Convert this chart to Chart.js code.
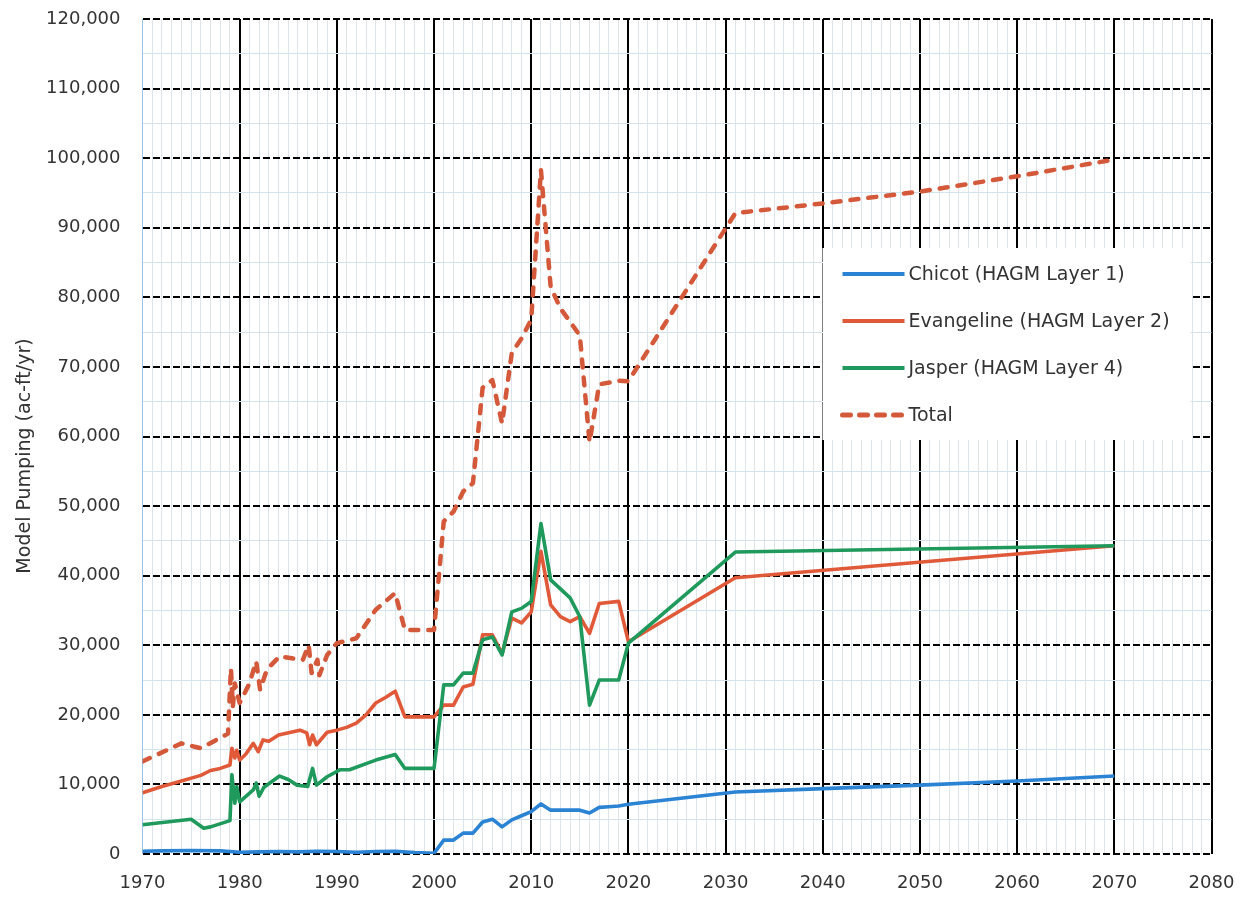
<!DOCTYPE html>
<html>
<head>
<meta charset="utf-8">
<script src="https://cdn.jsdelivr.net/npm/chart.js@4.4.0/dist/chart.umd.min.js"></script>
<style>
  html, body { margin: 0; padding: 0; background: #fff; }
  #wrap { width: 1242px; height: 899px; position: relative; }
</style>
</head>
<body>
<div id="wrap"><canvas id="pumpChart"></canvas></div>
<script>
// Datos (ac-ft/yr)
const chicotYears = [1970, 1972, 1975, 1978, 1979, 1980, 1982, 1984, 1986, 1988, 1990, 1992, 1994, 1996, 1998, 2000,
  2001, 2002, 2003, 2004, 2005, 2006, 2007, 2008, 2009, 2010, 2011, 2012, 2013, 2014, 2015, 2016, 2017, 2018, 2019, 2020,
  2031, 2040, 2050, 2060, 2070];
const chicotValues = [400, 450, 500, 450, 350, 250, 300, 350, 300, 400, 350, 250, 350, 400, 200, 100,
  2000, 2000, 3000, 3000, 4600, 5000, 3900, 4900, 5500, 6100, 7200, 6300, 6300, 6300, 6300, 5900, 6700, 6800, 6900, 7150,
  8900, 9400, 9900, 10500, 11200];

const evangelineYears = [1970, 1972, 1974, 1976, 1977, 1978, 1979, 1979.2, 1979.5, 1979.7, 1980, 1980.6, 1981.4, 1981.9, 1982.4, 1983,
  1984, 1986.2, 1986.9, 1987.2, 1987.5, 1987.9, 1989, 1990, 1991, 1992, 1993, 1994, 1995, 1996, 1997, 2000,
  2001, 2002, 2003, 2004, 2005, 2006, 2007, 2008, 2009, 2010, 2011, 2012, 2013, 2014, 2015, 2016, 2017, 2019, 2020,
  2031, 2070];
const evangelineValues = [8800, 9700, 10500, 11300, 12000, 12300, 12800, 15200, 13800, 14900, 13500, 14300, 15900, 14700, 16400, 16200,
  17100, 17800, 17400, 15700, 17100, 15700, 17500, 17800, 18200, 18800, 20000, 21700, 22500, 23400, 19700, 19700,
  21400, 21400, 24000, 24400, 31500, 31500, 28800, 33900, 33200, 34800, 43500, 35800, 34100, 33400, 34100, 31700, 36000, 36300, 30500,
  39700, 44300];

const jasperYears = [1970, 1975, 1976.3, 1977, 1979, 1979.2, 1979.5, 1979.7, 1980, 1981.4, 1981.7, 1982, 1982.5,
  1984.1, 1985, 1985.9, 1987, 1987.5, 1987.9, 1989, 1990.3, 1991.3, 1994, 1996, 1997, 2000,
  2001, 2002, 2003, 2004, 2005, 2006, 2007, 2008, 2009, 2010, 2011, 2012, 2014, 2015, 2016, 2017, 2019, 2020,
  2031, 2070];
const jasperValues = [4200, 5000, 3700, 3900, 4800, 11400, 7300, 9700, 7500, 9200, 10200, 8300, 9600,
  11200, 10700, 9900, 9700, 12300, 9900, 11100, 12100, 12100, 13500, 14300, 12300, 12300,
  24300, 24300, 26000, 26000, 30800, 31200, 28600, 34800, 35300, 36300, 47500, 39400, 36800, 34100, 21400, 25000, 25000, 30300,
  43400, 44300];

const totalYears = [1970, 1974, 1976, 1978.8, 1979.1, 1979.3, 1979.5, 1980, 1981, 1981.7, 1982.1, 1982.8,
  1984.1, 1986.5, 1987.1, 1987.4, 1988, 1988.2, 1989, 1990, 1992, 1994, 1996, 1997, 2000,
  2001, 2002, 2003, 2004, 2005, 2006, 2007, 2008, 2009, 2010, 2011, 2012, 2013, 2014, 2015, 2016, 2017, 2019, 2020,
  2031, 2040, 2050, 2060, 2070];
const totalValues = [13300, 15900, 15200, 17300, 26700, 21200, 24500, 21700, 24500, 27700, 23600, 26500,
  28400, 27900, 30000, 26000, 27900, 25700, 28600, 30300, 31000, 35100, 37500, 32200, 32200,
  47800, 49200, 52100, 53300, 67000, 68100, 61900, 72000, 74100, 76800, 98300, 81500, 78400, 76500, 74500, 59200, 67500, 68000, 67950,
  92100, 93500, 95200, 97400, 99800];

const seriesLabels = ['Chicot (HAGM Layer 1)', 'Evangeline (HAGM Layer 2)', 'Jasper (HAGM Layer 4)', 'Total'];
const seriesColors = ['#2b83d4', '#e05a3a', '#1f9a5c', '#d4593a'];
const yAxisTitle = 'Model Pumping (ac-ft/yr)';

const textColor = '#333333';
const fontFamily = '"DejaVu Sans", sans-serif';

function toPoints(xs, ys) {
    return xs.map((x, i) => ({ x: x, y: ys[i] }));
}

// Leyenda dentro del area del grafico + titulo del eje Y
const insideLegend = {
    id: 'insideLegend',
    beforeDatasetsDraw(chart) {
        const c = chart.ctx;
        const area = chart.chartArea;
        const boxX = area.left + 680, boxY = area.top + 229;
        c.save();
        c.fillStyle = '#ffffff';
        c.fillRect(boxX, boxY, 368, 192);
        c.font = '19px ' + fontFamily;
        c.textBaseline = 'middle';
        c.textAlign = 'left';
        seriesLabels.forEach((label, i) => {
            const y = boxY + 26 + i * 47;
            c.strokeStyle = seriesColors[i];
            if (i === 3) {
                c.lineWidth = 5;
                c.lineCap = 'round';
                c.setLineDash([8, 9]);
            } else {
                c.lineWidth = 4;
                c.lineCap = 'butt';
                c.setLineDash([]);
            }
            c.beginPath();
            c.moveTo(boxX + 20, y);
            c.lineTo(boxX + 82, y);
            c.stroke();
            c.fillStyle = textColor;
            c.fillText(label, boxX + 86, y + 1);
        });
        c.restore();
    },
    afterDraw(chart) {
        const c = chart.ctx;
        c.save();
        c.translate(25, 456);
        c.rotate(-Math.PI / 2);
        c.font = '19px ' + fontFamily;
        c.fillStyle = textColor;
        c.textAlign = 'center';
        c.textBaseline = 'middle';
        c.fillText(yAxisTitle, 0, 0);
        c.restore();
    }
};

const ctx = document.getElementById('pumpChart').getContext('2d');
const chart = new Chart(ctx, {
    type: 'line',
    data: {
        datasets: [
            { label: seriesLabels[0], data: toPoints(chicotYears, chicotValues), borderColor: seriesColors[0], borderWidth: 3.6, order: 1 },
            { label: seriesLabels[1], data: toPoints(evangelineYears, evangelineValues), borderColor: seriesColors[1], borderWidth: 3.6, order: 2 },
            { label: seriesLabels[2], data: toPoints(jasperYears, jasperValues), borderColor: seriesColors[2], borderWidth: 3.6, order: 1 },
            { label: seriesLabels[3], data: toPoints(totalYears, totalValues), borderColor: seriesColors[3], borderWidth: 4.5,
              borderDash: [8, 10], borderCapStyle: 'round', order: 0 }
        ]
    },
    options: {
        responsive: true,
        maintainAspectRatio: false,
        animation: false,
        layout: { padding: { left: 0, top: 19, right: 30.5, bottom: 0 } },
        elements: {
            point: { radius: 0 },
            line: { tension: 0, borderJoinStyle: 'round', fill: false }
        },
        scales: {
            x: {
                type: 'linear',
                min: 1970,
                max: 2080,
                afterFit: s => { s.height = 45; s.paddingLeft = 0; s.paddingRight = 0; },
                ticks: {
                    stepSize: 1,
                    autoSkip: false,
                    maxRotation: 0,
                    padding: 19,
                    color: textColor,
                    font: { family: fontFamily, size: 18 },
                    callback: v => (v % 10 === 0 ? String(v) : '')
                },
                grid: {
                    drawTicks: false,
                    color: c => {
                        const v = c.tick ? c.tick.value : null;
                        if (v === 1970) return '#9cc2e4';
                        return v % 10 === 0 ? '#000000' : '#dde5ea';
                    },
                    lineWidth: c => (c.tick && c.tick.value % 10 === 0 && c.tick.value !== 1970) ? 2 : 1
                },
                border: { display: false }
            },
            y: {
                min: 0,
                max: 120000,
                afterFit: s => { s.width = 142.5; s.paddingTop = 0; s.paddingBottom = 0; },
                ticks: {
                    stepSize: 5000,
                    autoSkip: false,
                    padding: 22,
                    color: textColor,
                    font: { family: fontFamily, size: 18 },
                    callback: v => (v % 10000 === 0 ? v.toLocaleString('en-US') : '')
                },
                grid: {
                    drawTicks: false,
                    color: c => (c.tick && c.tick.value % 10000 === 0) ? '#000000' : '#d2e3ee',
                    lineWidth: c => (c.tick && c.tick.value % 10000 === 0) ? 2 : 1
                },
                border: {
                    display: false,
                    dash: c => (c.tick && c.tick.value % 10000 === 0) ? [7, 3] : []
                }
            }
        },
        plugins: {
            legend: { display: false },
            tooltip: { enabled: false }
        }
    },
    plugins: [insideLegend]
});
</script>
</body>
</html>
